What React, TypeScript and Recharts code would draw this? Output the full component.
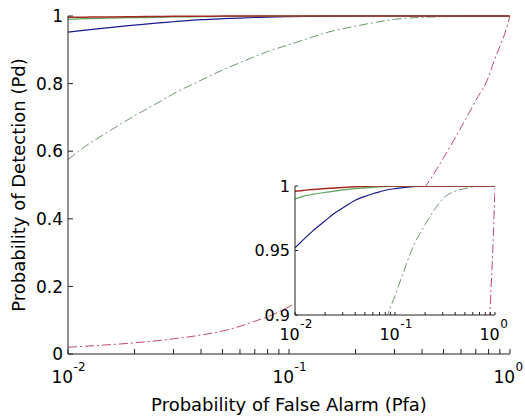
import React from 'react';
import { LineChart, Line, XAxis, YAxis, CartesianGrid } from 'recharts';

// ---- data ----
const pfa = [0.01, 0.012, 0.015, 0.02, 0.025, 0.03, 0.04, 0.05, 0.06, 0.07, 0.08, 0.1, 0.12, 0.15, 0.2, 0.25, 0.3, 0.4, 0.5, 0.6, 0.7, 0.8, 0.85, 0.9, 0.95, 1];
const pdBlue = [0.952, 0.958, 0.965, 0.973, 0.979, 0.983, 0.989, 0.992, 0.994, 0.9955, 0.9967, 0.998, 0.9988, 0.9995, 1, 1, 1, 1, 1, 1, 1, 1, 1, 1, 1, 1];
const pdGreen = [0.99, 0.992, 0.9935, 0.995, 0.996, 0.997, 0.998, 0.9985, 0.999, 0.9993, 0.9995, 0.9997, 1, 1, 1, 1, 1, 1, 1, 1, 1, 1, 1, 1, 1, 1];
const pdRed = [0.996, 0.9966, 0.9973, 0.998, 0.9985, 0.9989, 0.9994, 0.9997, 1, 1, 1, 1, 1, 1, 1, 1, 1, 1, 1, 1, 1, 1, 1, 1, 1, 1];
const pdGreenDashDot = [0.575, 0.615, 0.655, 0.705, 0.74, 0.77, 0.81, 0.84, 0.862, 0.88, 0.895, 0.915, 0.932, 0.952, 0.97, 0.982, 0.99, 0.996, 0.998, 0.9993, 1, 1, 1, 1, 1, 1];
const pdRedDashDot = [0.02, 0.023, 0.027, 0.033, 0.039, 0.045, 0.056, 0.068, 0.082, 0.097, 0.11, 0.14, 0.17, 0.21, 0.27, 0.33, 0.38, 0.48, 0.58, 0.67, 0.75, 0.82, 0.87, 0.91, 0.95, 1];

const xMajorTicks = [0.01, 0.1, 1];
const xTicks = [0.01, 0.02, 0.03, 0.04, 0.05, 0.06, 0.07, 0.08, 0.09, 0.1, 0.2, 0.3, 0.4, 0.5, 0.6, 0.7, 0.8, 0.9, 1];
const mainYTicks = [0, 0.2, 0.4, 0.6, 0.8, 1];
const insetYTicks = [0.9, 0.95, 1];

const xTitle = 'Probability of False Alarm (Pfa)';
const yTitle = 'Probability of Detection (Pd)';

const rows = pfa.map((x, i) => ({
  pfa: x,
  blue: pdBlue[i],
  green: pdGreen[i],
  red: pdRed[i],
  greenDD: pdGreenDashDot[i],
  redDD: pdRedDashDot[i],
}));

// ---- styles ----
const FONT = '"DejaVu Sans", Verdana, sans-serif';
const AXIS = '#222';
const TFS = 18;

const isMajor = (v: number) => xMajorTicks.some((m) => Math.abs(m - v) < 1e-9);
const fmtY = (v: number) => (v === 0 ? '0' : v === 1 ? '1' : String(v));

const bottomTick = (len: number, labelDy: number, fs: number) => (props: any) => {
  const { x, y, payload } = props;
  const v = payload.value;
  const major = isMajor(v);
  const exp = Math.round(Math.log10(v));
  const split = x + fs * 0.3;
  return (
    <g>
      <line x1={x} x2={x} y1={y} y2={y - len} stroke={AXIS} strokeWidth={1} />
      {major && (
        <text x={split} y={y + labelDy} textAnchor="end" fontFamily={FONT} fontSize={fs} fill="#000">
          10
        </text>
      )}
      {major && (
        <text x={split + 0.5} y={y + labelDy - 12} textAnchor="start" fontFamily={FONT} fontSize={12} fill="#000">
          {String(exp)}
        </text>
      )}
    </g>
  );
};

const topTick = (len: number) => (props: any) => {
  const { x, y } = props;
  return <line x1={x} x2={x} y1={y} y2={y + len} stroke={AXIS} strokeWidth={1} />;
};

const leftTick = (len: number, fs: number) => (props: any) => {
  const { x, y, payload } = props;
  return (
    <g>
      <line x1={x} x2={x + len} y1={y} y2={y} stroke={AXIS} strokeWidth={1} />
      <text x={x - 5} y={y} dy="0.36em" textAnchor="end" fontFamily={FONT} fontSize={fs} fill="#000">
        {fmtY(payload.value)}
      </text>
    </g>
  );
};

const rightTick = (len: number) => (props: any) => {
  const { x, y } = props;
  return <line x1={x} x2={x - len} y1={y} y2={y} stroke={AXIS} strokeWidth={1} />;
};

const series = [
  { key: 'redDD', color: '#c04a66', dash: '9 3 2 3', w: 1 },
  { key: 'greenDD', color: '#6f966f', dash: '9 3 2 3', w: 1 },
  { key: 'blue', color: '#1a1a90', dash: undefined, w: 1.2 },
  { key: 'green', color: '#5ca35c', dash: undefined, w: 1.2 },
  { key: 'red', color: '#a32a22', dash: undefined, w: 1.5 },
];

const renderLines = () =>
  series.map((s) => (
    <Line
      key={s.key}
      dataKey={s.key}
      type="monotone"
      stroke={s.color}
      strokeWidth={s.w}
      strokeDasharray={s.dash}
      dot={false}
      activeDot={false}
      isAnimationActive={false}
    />
  ));

export default function App() {
  return (
    <div style={{ position: 'absolute', left: 0, top: 0, width: 525, height: 417, background: '#fff' }}>
      <LineChart width={525} height={417} data={rows} margin={{ top: 16, right: 15, bottom: 0, left: 0 }}>
        <XAxis
          dataKey="pfa"
          type="number"
          scale="log"
          domain={[0.01, 1]}
          allowDataOverflow
          ticks={xTicks}
          interval={0}
          tickLine={false}
          tickSize={0}
          tickMargin={0}
          height={63}
          stroke={AXIS}
          tick={bottomTick(5, 29, 17)}
          label={{ value: xTitle, position: 'insideBottom', offset: 6, fontFamily: FONT, fontSize: TFS, fill: '#000' }}
        />
        <XAxis
          xAxisId="top"
          orientation="top"
          dataKey="pfa"
          type="number"
          scale="log"
          domain={[0.01, 1]}
          allowDataOverflow
          ticks={xTicks}
          interval={0}
          tickLine={false}
          tickSize={0}
          tickMargin={0}
          height={0}
          stroke={AXIS}
          tick={topTick(5)}
        />
        <YAxis
          type="number"
          domain={[0, 1]}
          ticks={mainYTicks}
          interval={0}
          tickLine={false}
          tickSize={0}
          tickMargin={0}
          width={68}
          stroke={AXIS}
          tick={leftTick(5, 17)}
          label={{ value: yTitle, angle: -90, position: 'insideLeft', offset: 19, fontFamily: FONT, fontSize: TFS, fill: '#000', style: { textAnchor: 'middle' } }}
        />
        <YAxis
          yAxisId="right"
          orientation="right"
          type="number"
          domain={[0, 1]}
          ticks={mainYTicks}
          interval={0}
          tickLine={false}
          tickSize={0}
          tickMargin={0}
          width={0}
          stroke={AXIS}
          tick={rightTick(5)}
        />
        {renderLines()}
      </LineChart>

      <div style={{ position: 'absolute', left: 230, top: 176 }}>
        <LineChart width={280} height={170} data={rows} margin={{ top: 10, right: 15, bottom: 0, left: 0 }}>
          <CartesianGrid fill="#fff" horizontal={false} vertical={false} />
          <XAxis
            dataKey="pfa"
            type="number"
            scale="log"
            domain={[0.01, 1]}
            allowDataOverflow
            ticks={xTicks}
            interval={0}
            tickLine={false}
            tickSize={0}
            tickMargin={0}
            height={31}
            stroke={AXIS}
            tick={bottomTick(3, 25, 16)}
          />
          <XAxis
            xAxisId="top"
            orientation="top"
            dataKey="pfa"
            type="number"
            scale="log"
            domain={[0.01, 1]}
            allowDataOverflow
            ticks={xTicks}
            interval={0}
            tickLine={false}
            tickSize={0}
            tickMargin={0}
            height={0}
            stroke={AXIS}
            tick={topTick(3)}
          />
          <YAxis
            type="number"
            domain={[0.9, 1]}
            allowDataOverflow
            ticks={insetYTicks}
            interval={0}
            tickLine={false}
            tickSize={0}
            tickMargin={0}
            width={65}
            stroke={AXIS}
            tick={leftTick(3, 16)}
          />
          <YAxis
            yAxisId="right"
            orientation="right"
            type="number"
            domain={[0.9, 1]}
            allowDataOverflow
            ticks={insetYTicks}
            interval={0}
            tickLine={false}
            tickSize={0}
            tickMargin={0}
            width={0}
            stroke={AXIS}
            tick={rightTick(3)}
          />
          {renderLines()}
        </LineChart>
      </div>
    </div>
  );
}
